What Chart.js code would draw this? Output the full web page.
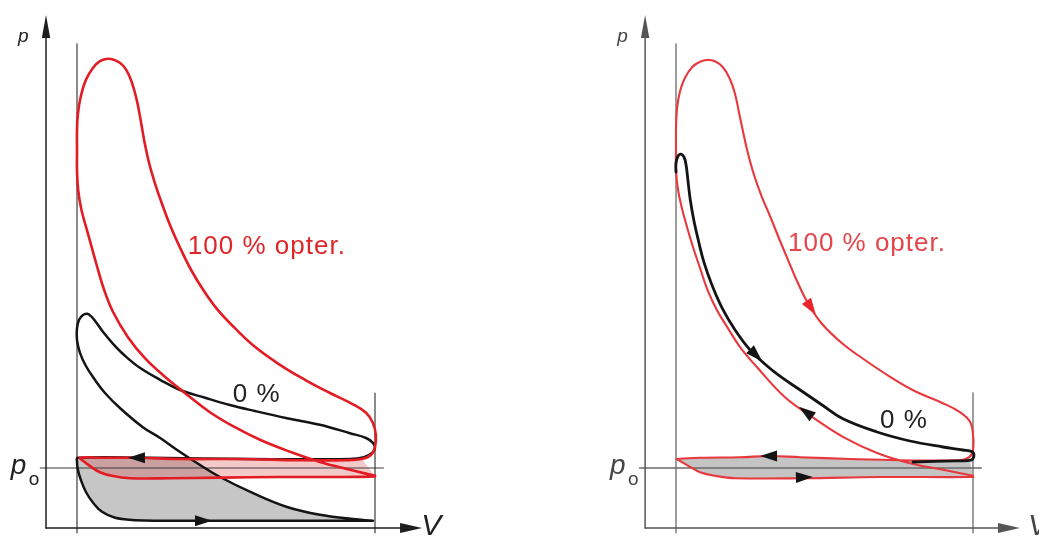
<!DOCTYPE html>
<html><head><meta charset="utf-8">
<script src="https://cdn.jsdelivr.net/npm/chart.js@4.4.0/dist/chart.umd.min.js"></script>
<style>
html,body{margin:0;padding:0;background:#fff;width:1039px;height:536px;overflow:hidden}
canvas{position:absolute;top:0}
#cl{left:0}
#cr{left:520px}
</style></head><body>
<canvas id="cl" width="520" height="536"></canvas>
<canvas id="cr" width="519" height="536"></canvas>
<script>
// Units: V = % of stroke (0 = TDC, 100 = BDC); p relative to ambient pressure p0 = 1.
// ---------- Left diagram ----------
const lFullCompression = [[100,0.87],[91.6,0.97],[81.5,1.10],[71.5,1.27],[61.4,1.47],[53.0,1.68],[44.6,1.93],[36.2,2.25],[29.5,2.52],[22.8,2.83],[17.1,3.18],[12.1,3.60],[9.1,3.97],[6.5,4.40],[3.6,4.92],[1.5,5.30],[0.4,5.63],[0,5.97],[0,6.30],[0,6.63]];
const lFullExpansion = [[0.3,6.90],[1.3,7.20],[3.0,7.47],[5.4,7.67],[7.7,7.78],[10.4,7.82],[13.1,7.79],[15.6,7.70],[17.6,7.53],[19.2,7.30],[20.5,7.03],[21.6,6.73],[22.7,6.42],[24.1,6.10],[26.0,5.77],[28.4,5.42],[31.2,5.05],[34.6,4.67],[38.3,4.30],[42.6,3.95],[47.3,3.63],[53.0,3.33],[59.7,3.02],[68.1,2.72],[76.5,2.47],[84.9,2.25],[92.3,2.07],[97.0,1.92],[99.3,1.75],[100.3,1.55],[100,1.35],[98.7,1.22],[95.6,1.15],[89.9,1.13]];
const lFullExhaust = [[74.8,1.13],[54.6,1.15],[34.6,1.15],[20.1,1.17],[7.7,1.17],[1.0,1.17]];
const lFullIntake = [[2.0,1.12],[4.4,1.03],[7.7,0.93],[11.7,0.87],[17.8,0.83],[31.2,0.83],[48.0,0.84],[68.1,0.85],[88.3,0.85],[100,0.86]];

const lZeroCompression = [[99.3,0.12],[92.6,0.15],[81.5,0.22],[70.5,0.35],[59.1,0.58],[48.0,0.85],[41.3,1.05],[33.6,1.30],[27.9,1.50],[22.1,1.68],[14.4,2.00],[9.4,2.25],[6.0,2.47],[3.0,2.70],[1.0,2.92],[0,3.13],[0,3.33]];
const lZeroExpansion = [[0.7,3.47],[2.0,3.55],[3.4,3.57],[4.7,3.53],[6.4,3.43],[8.7,3.27],[12.1,3.07],[16.1,2.87],[21.1,2.67],[27.9,2.47],[34.6,2.30],[43.0,2.17],[51.3,2.05],[59.7,1.95],[70.5,1.83],[81.5,1.72],[91.6,1.58],[97.0,1.50],[99.3,1.42],[100,1.33],[99.0,1.25],[96.3,1.18],[91.6,1.15]];
const lZeroExhaust = [[58.1,1.15],[24.5,1.17],[0.3,1.17]];
const lZeroIntake = [[0,1.10],[0.3,0.97],[1.3,0.80],[3.0,0.60],[5.4,0.42],[8.4,0.27],[12.8,0.17],[19.5,0.13],[41.3,0.12],[74.8,0.12],[99.3,0.12]];
const lZeroExhaustCrossing = [38.6,1.15];

// ---------- Right diagram ----------
const rFullCompression = [[100,0.87],[89.9,0.97],[78.8,1.08],[67.7,1.25],[56.2,1.52],[46.8,1.82],[36.7,2.18],[27.3,2.68],[21.5,3.02],[17.5,3.33],[13.8,3.63],[10.6,3.97],[8.1,4.33],[5.8,4.67],[3.8,5.00],[2.0,5.33],[0.7,5.63],[0,5.97],[0,6.30],[0,6.63]];
const rFullExpansion = [[0.3,6.97],[1.3,7.27],[3.0,7.50],[5.4,7.68],[8.1,7.77],[10.4,7.80],[13.1,7.78],[15.8,7.68],[18.0,7.50],[19.8,7.25],[21.2,6.93],[22.6,6.60],[24.2,6.25],[26.3,5.88],[28.9,5.52],[31.9,5.17],[34.9,4.80],[37.7,4.47],[40.7,4.12],[44.4,3.75],[49.2,3.40],[55.9,3.08],[63.6,2.80],[72.1,2.52],[80.5,2.28],[89.9,2.08],[95.6,1.93],[99.0,1.77],[100,1.55],[100,1.30],[98.7,1.18],[95.6,1.13]];
const rFullExhaust = [[75.4,1.13],[58.6,1.15],[41.8,1.18],[31.6,1.20],[21.5,1.18],[8.1,1.17],[0.3,1.15]];
const rFullIntake = [[1.3,1.12],[4.7,1.02],[8.1,0.93],[13.1,0.87],[19.9,0.83],[42.8,0.83],[68.7,0.85],[100,0.85]];

const rZeroExpansion = [[0,5.93],[0,6.08],[0.7,6.20],[1.7,6.23],[2.7,6.18],[3.4,6.05],[4.0,5.80],[4.8,5.47],[6.0,5.13],[7.5,4.80],[9.4,4.43],[12.1,4.05],[15.5,3.67],[19.9,3.30],[24.9,2.97],[30.0,2.73],[35.0,2.53],[41.8,2.30],[49.2,2.05],[56.2,1.82],[67.7,1.60],[78.8,1.45],[89.9,1.35],[96.6,1.30],[99.7,1.27],[100.3,1.20]];
const rZeroExhaust = [[99.3,1.13],[93.9,1.12],[79.8,1.10]];

// Stroke limits and ambient pressure
const V_TDC = 0, V_BDC = 100, P_AMB = 1;
const V_AXIS = -10.4;          // volume axis origin (zero volume)
const P_TOP_TDC = 8.07, P_TOP_BDC = 2.25, P_LOW = -0.08;
const P0_LINE_V = [-12.3, 102.8];
const AXIS_TIP_P = 8.55, AXIS_TIP_V = 115.8;

// Direction arrows along the curves: [tip, point behind]
const lArrows = [[[17.1,1.17],[23.8,1.17]], [[45.3,0.12],[38.6,0.12]]];
const rArrowsBlack = [[[28.3,1.20],[35.0,1.20]], [[46.1,0.85],[40.1,0.84]], [[29.0,2.78],[24.9,2.98]], [[41.4,2.02],[46.1,1.85]]];
const rArrowsRed = [[[47.1,3.55],[42.8,3.87]]];

// Labels
const labelFull = "100 % opter.";
const labelZero = "0 %";
const lLabelFullPos = [37.2,4.57], lLabelZeroPos = [52.3,2.10];
const rLabelFullPos = [37.7,4.62], rLabelZeroPos = [68.7,1.67];

const pts = a => a.map(([x,y]) => ({x,y}));

function arrowHead(ctx, tx, ty, fx, fy, len, hw, color){
  const a = Math.atan2(ty-fy, tx-fx);
  ctx.save(); ctx.translate(tx,ty); ctx.rotate(a);
  ctx.beginPath(); ctx.moveTo(0,0); ctx.lineTo(-len,-hw); ctx.lineTo(-len,hw); ctx.closePath();
  ctx.fillStyle = color; ctx.fill(); ctx.restore();
}

const decor = {
  id: 'decor',
  afterDatasetsDraw(chart, args, o){
    const ctx = chart.ctx, xs = chart.scales.x, ys = chart.scales.y;
    const X = v => xs.getPixelForValue(v), Y = v => ys.getPixelForValue(v);
    ctx.save();
    arrowHead(ctx, X(V_AXIS), Y(AXIS_TIP_P), X(V_AXIS), Y(AXIS_TIP_P-1), 23, 4.2, o.axisColor);
    arrowHead(ctx, X(AXIS_TIP_V), Y(0), X(AXIS_TIP_V-5), Y(0), 22, 5, o.axisColor);
    o.arrows.forEach(a => arrowHead(ctx, X(a.tip[0]), Y(a.tip[1]), X(a.from[0]), Y(a.from[1]), 17, 5.5, a.color));
    o.texts.forEach(t => {
      ctx.font = t.font; ctx.fillStyle = t.color;
      try { ctx.letterSpacing = t.ls || '0px'; } catch(e) {}
      ctx.textBaseline = 'alphabetic'; ctx.textAlign = 'left';
      ctx.fillText(t.text, X(t.pos[0]), Y(t.pos[1]));
    });
    ctx.restore();
  }
};

function lineDs(data, color, width, order, extra){
  return Object.assign({data: pts(data), borderColor: color, borderWidth: width, pointRadius: 0,
    tension: 0.4, fill: false, order, borderCapStyle: 'round', borderJoinStyle: 'round'}, extra || {});
}
function areaDs(data, color, order){
  return {data: pts(data), borderWidth: 0, borderColor: 'rgba(0,0,0,0)', backgroundColor: color,
    pointRadius: 0, tension: 0.4, fill: 'shape', order};
}

function makeChart(id, xMin, xMax, datasets, decorOpts){
  return new Chart(document.getElementById(id), {
    type: 'line',
    data: {datasets},
    options: {
      responsive: false, animation: false, devicePixelRatio: 1, events: [],
      layout: {padding: 0},
      scales: {
        x: {type: 'linear', display: false, min: xMin, max: xMax},
        y: {type: 'linear', display: false, min: -0.1333, max: 8.8}
      },
      plugins: {legend: {display: false}, tooltip: {enabled: false}, decor: decorOpts}
    },
    plugins: [decor]
  });
}

function refLines(axisColor, refColor, axisW, refW){
  return [
    lineDs([[V_AXIS,0],[V_AXIS,AXIS_TIP_P-0.3]], axisColor, axisW, 9, {tension:0}),
    lineDs([[V_AXIS,0],[AXIS_TIP_V-6,0]], axisColor, axisW, 9, {tension:0}),
    lineDs([[V_TDC,P_LOW],[V_TDC,P_TOP_TDC]], refColor, refW, 9, {tension:0}),
    lineDs([[V_BDC,P_LOW],[V_BDC,P_TOP_BDC]], refColor, refW, 9, {tension:0}),
    lineDs([[P0_LINE_V[0],P_AMB],[P0_LINE_V[1],P_AMB]], refColor, refW, 9, {tension:0})
  ];
}

const FONT = '"Liberation Sans", Arial, sans-serif';
function axisTexts(color){
  return [
    {text:'p', pos:[-19.8,8.1], font:'italic 19px '+FONT, color},
    {text:'p', pos:[-22.2,0.9], font:'italic 28px '+FONT, color},
    {text:'o', pos:[-16.2,0.72], font:'19px '+FONT, color},
  ];
}

const RED_L = '#e31b23', RED_R = '#e8383d', BLACK = '#141414';
const lZeroArea = [[0,1.15], lZeroExhaustCrossing,
  ...lZeroCompression.filter(q => q[1] < 1.15).reverse(), ...lZeroIntake.slice().reverse()];
const lFullPump = [lFullExpansion[lFullExpansion.length-2], lFullExpansion[lFullExpansion.length-1], ...lFullExhaust, ...lFullIntake];

makeChart('cl', -77/2.98, (520-77)/2.98, [
  lineDs([...lFullCompression, ...lFullExpansion, ...lFullExhaust, ...lFullIntake, lFullCompression[0]], RED_L, 2.6, 1),
  lineDs([...lZeroCompression, ...lZeroExpansion, ...lZeroExhaust, ...lZeroIntake], BLACK, 2.5, 2),
  ...refLines('#1e1e1e', '#3c3c3c', 1.5, 1.2),
  areaDs(lFullPump, 'rgba(215,60,60,0.28)', 19),
  areaDs(lZeroArea, '#c6c6c6', 20)
], {
  axisColor: '#1e1e1e',
  arrows: lArrows.map(a => ({tip:a[0], from:a[1], color:BLACK})),
  texts: [
    ...axisTexts('#222'),
    {text:'V', pos:[115.5,-0.117], font:'italic 30px '+FONT, color:'#222'},
    {text:labelFull, pos:lLabelFullPos, font:'26px '+FONT, color:'#e02529', ls:'1px'},
    {text:labelZero, pos:lLabelZeroPos, font:'26px '+FONT, color:'#222', ls:'1px'}
  ]
});

const rFullPump = [rFullExpansion[rFullExpansion.length-2], rFullExpansion[rFullExpansion.length-1], ...rFullExhaust, ...rFullIntake];
makeChart('cr', -156/2.97, (519-156)/2.97, [
  lineDs([...rZeroExpansion, ...rZeroExhaust], BLACK, 2.8, 1),
  lineDs([...rFullCompression, ...rFullExpansion, ...rFullExhaust, ...rFullIntake, rFullCompression[0]], RED_R, 2.1, 2),
  ...refLines('#555', '#6a6a6a', 1.5, 1.3),
  areaDs(rFullPump, '#c4c4c4', 20)
], {
  axisColor: '#555',
  arrows: [...rArrowsBlack.map(a => ({tip:a[0], from:a[1], color:BLACK})),
           ...rArrowsRed.map(a => ({tip:a[0], from:a[1], color:'#e8262c'}))],
  texts: [
    ...axisTexts('#444'),
    {text:'V', pos:[118.5,-0.117], font:'italic 30px '+FONT, color:'#444'},
    {text:labelFull, pos:rLabelFullPos, font:'26px '+FONT, color:'#e2454a', ls:'1px'},
    {text:labelZero, pos:rLabelZeroPos, font:'26px '+FONT, color:'#222', ls:'1px'}
  ]
});
</script>
</body></html>
